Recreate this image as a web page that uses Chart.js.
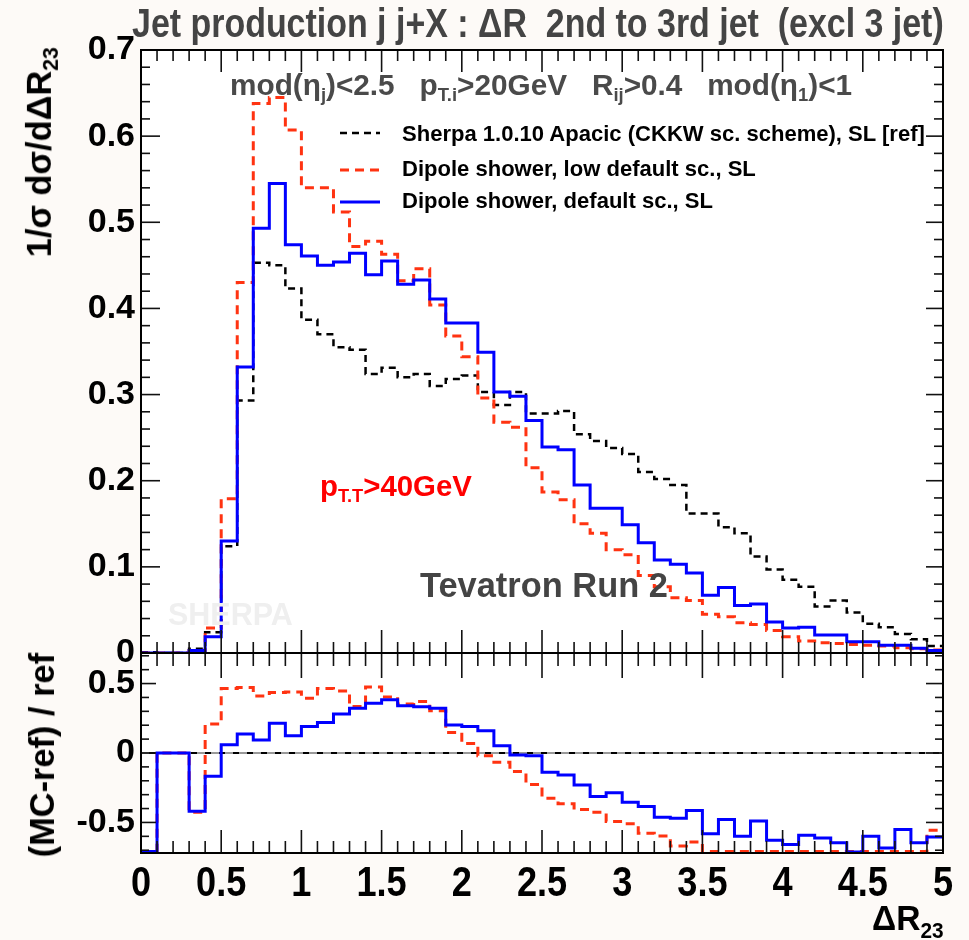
<!DOCTYPE html>
<html><head><meta charset="utf-8">
<script src="https://cdn.jsdelivr.net/npm/chart.js@4.4.1/dist/chart.umd.min.js"></script>
<style>
html,body{margin:0;padding:0;background:#fdfaf7;}
#wrap{position:relative;width:969px;height:940px;overflow:hidden;}
canvas{position:absolute;left:0;}
#c1{top:0;} #c2{top:613px;}
.t{position:absolute;white-space:pre;line-height:1;font-family:"Liberation Sans",Arial,sans-serif;font-weight:bold;z-index:5;}
.t sub{font-size:62%;vertical-align:-0.35em;line-height:0;}
.leg{position:absolute;left:340px;z-index:5;}
</style></head>
<body><div id="wrap">
<canvas id="c1" width="969" height="700"></canvas>
<canvas id="c2" width="969" height="327"></canvas>

<div id="title" class="t" style="font-size:40px;color:#444;">Jet production j j+X : ΔR  2nd to 3rd jet  (excl 3 jet)</div>
<div id="cuts" class="t" style="font-size:28px;color:#4a4a4a;">mod(η<sub>j</sub>)&lt;2.5   p<sub>T.i</sub>&gt;20GeV   R<sub>ij</sub>&gt;0.4   mod(η<sub>1</sub>)&lt;1</div>

<svg class="leg" style="top:127px" width="42" height="12"><line x1="0" y1="6" x2="40" y2="6" stroke="#000" stroke-width="2.5" stroke-dasharray="7 5"/></svg>
<svg class="leg" style="top:164px" width="42" height="12"><line x1="0" y1="6" x2="40" y2="6" stroke="#ff3311" stroke-width="3" stroke-dasharray="9 6"/></svg>
<svg class="leg" style="top:196px" width="42" height="12"><line x1="0" y1="6" x2="40" y2="6" stroke="#0000ff" stroke-width="3"/></svg>
<div id="l1" class="t" style="font-size:22px;color:#000;">Sherpa 1.0.10 Apacic (CKKW sc. scheme), SL [ref]</div>
<div id="l2" class="t" style="font-size:22px;color:#000;">Dipole shower, low default sc., SL</div>
<div id="l3" class="t" style="font-size:22px;color:#000;">Dipole shower, default sc., SL</div>

<div id="ptt" class="t" style="font-size:29px;color:#ff0000;">p<sub>T.T</sub>&gt;40GeV</div>
<div id="tev" class="t" style="font-size:34px;color:#444;">Tevatron Run 2</div>
<div id="sherpa" class="t" style="font-size:30px;color:#efefef;z-index:1;">SHERPA</div>

<div id="ytop" class="t" style="font-size:30px;color:#000;">1/σ dσ/dΔR<sub>23</sub></div>
<div id="ybot" class="t" style="font-size:30px;color:#000;">(MC-ref) / ref</div>
<div id="xtitle" class="t" style="font-size:35px;color:#000;">ΔR<sub>23</sub></div>
</div>
<script>
// ---- data ----
const binLow = [0.0,0.1,0.2,0.3,0.4,0.5,0.6,0.7,0.8,0.9,1.0,1.1,1.2,1.3,1.4,1.5,1.6,1.7,1.8,1.9,
  2.0,2.1,2.2,2.3,2.4,2.5,2.6,2.7,2.8,2.9,3.0,3.1,3.2,3.3,3.4,3.5,3.6,3.7,3.8,3.9,
  4.0,4.1,4.2,4.3,4.4,4.5,4.6,4.7,4.8,4.9];
const binEnd = 5.0;
const refVals = [0.001,0,0,0.005,0.024,0.124,0.293,0.453,0.450,0.423,
  0.387,0.370,0.355,0.352,0.324,0.331,0.320,0.324,0.310,0.318,
  0.322,0.303,0.288,0.303,0.278,0.278,0.281,0.254,0.246,0.238,
  0.231,0.210,0.202,0.195,0.162,0.162,0.146,0.139,0.112,0.097,
  0.085,0.077,0.054,0.061,0.047,0.034,0.030,0.022,0.016,0.008];
const lowVals = [0,0,0,0.003,0.029,0.179,0.430,0.638,0.645,0.607,
  0.540,0.540,0.512,0.472,0.478,0.463,0.432,0.446,0.404,0.368,
  0.344,0.296,0.268,0.262,0.215,0.187,0.178,0.150,0.139,0.120,
  0.114,0.090,0.077,0.064,0.061,0.045,0.042,0.035,0.033,0.026,
  0.019,0.014,0.012,0.011,0.010,0.009,0.008,0.006,0.005,0.0035];
const defVals = [0,0,0,0.003,0.019,0.130,0.332,0.493,0.545,0.474,
  0.461,0.450,0.454,0.464,0.439,0.455,0.428,0.433,0.411,0.383,
  0.383,0.349,0.303,0.298,0.270,0.239,0.236,0.195,0.168,0.168,
  0.149,0.128,0.108,0.103,0.093,0.067,0.076,0.055,0.057,0.036,
  0.029,0.030,0.021,0.021,0.013,0.013,0.009,0.009,0.0055,0.003];
const defRatio = [-0.71,0,0,-0.419,-0.167,0.060,0.136,0.093,0.215,0.124,
  0.191,0.220,0.280,0.323,0.359,0.383,0.340,0.333,0.323,0.201,
  0.191,0.160,0.053,-0.014,-0.019,-0.139,-0.158,-0.230,-0.313,-0.287,
  -0.354,-0.385,-0.462,-0.469,-0.414,-0.581,-0.478,-0.600,-0.490,-0.629,
  -0.658,-0.593,-0.612,-0.646,-0.713,-0.600,-0.684,-0.550,-0.646,-0.605];
const lowRatio = [-0.71,0,0,-0.426,0.208,0.464,0.471,0.411,0.435,0.440,
  0.395,0.464,0.447,0.335,0.476,0.404,0.352,0.371,0.304,0.148,
  0.069,-0.019,-0.067,-0.134,-0.227,-0.325,-0.366,-0.407,-0.426,-0.493,
  -0.510,-0.577,-0.598,-0.670,-0.641,-0.71,-0.71,-0.71,-0.71,-0.71,
  -0.71,-0.71,-0.71,-0.71,-0.71,-0.71,-0.71,-0.71,-0.71,-0.557];
const refRatio = refVals.map(() => 0);
const xTicks = [0,0.5,1,1.5,2,2.5,3,3.5,4,4.5,5];
const yTopTicks = [0,0.1,0.2,0.3,0.4,0.5,0.6,0.7];
const yRatioTicks = [-0.5,0,0.5];
const labels = ['Sherpa 1.0.10 Apacic (CKKW sc. scheme), SL [ref]','Dipole shower, low default sc., SL','Dipole shower, default sc., SL'];

// ---- text placement (fit to measured reference extents) ----
function place(id, left, cy, width, mode){
  const el = document.getElementById(id);
  if (mode === 'font') { const fs = parseFloat(getComputedStyle(el).fontSize); el.style.fontSize = (fs*width/el.offsetWidth)+'px'; }
  const sx = (mode === 'sx') ? width/el.offsetWidth : 1;
  el.style.left = left+'px';
  el.style.top = (cy - el.offsetHeight/2)+'px';
  el.style.transformOrigin = '0 50%';
  el.style.transform = 'scaleX('+sx+')';
}
function placeRot(id, cx, cy, len){
  const el = document.getElementById(id);
  const fs = parseFloat(getComputedStyle(el).fontSize); el.style.fontSize = (fs*len/el.offsetWidth)+'px';
  el.style.left = (cx - el.offsetWidth/2)+'px';
  el.style.top = (cy - el.offsetHeight/2)+'px';
  el.style.transformOrigin = '50% 50%';
  el.style.transform = 'rotate(-90deg)';
}
place('title', 132, 23, 812, 'sx');
place('cuts', 230, 85, 623, 'font');
place('l1', 402, 134, 523, 'font');
place('l2', 402, 168.5, 0, 'none');
place('l3', 402, 200.5, 0, 'none');
document.getElementById('l2').style.fontSize = document.getElementById('l1').style.fontSize;
document.getElementById('l3').style.fontSize = document.getElementById('l1').style.fontSize;
place('l2', 402, 168.5, 0, 'none');
place('l3', 402, 200.5, 0, 'none');
place('ptt', 320, 485, 152, 'font');
place('tev', 420, 585, 248, 'font');
place('sherpa', 168, 614, 125, 'font');
place('xtitle', 872, 917, 72, 'sx');
placeRot('ytop', 39, 152, 210);
placeRot('ybot', 42, 755, 204);

// ---- chart helpers ----
function toSteps(vals){ return vals.map((v,i)=>({x:binLow[i],y:v})).concat([{x:binEnd,y:vals[vals.length-1]}]); }
const FONT = "'Liberation Sans', Arial, sans-serif";
const line = (data,color,w,dash) => ({data:toSteps(data),borderColor:color,borderWidth:w,borderDash:dash||[],stepped:'before',pointRadius:0,fill:false,tension:0});

const bgPlugin = {id:'bg', beforeDraw(chart){const {ctx,chartArea:a}=chart; ctx.save(); ctx.fillStyle='#fff'; ctx.fillRect(a.left,a.top,a.right-a.left,a.bottom-a.top); ctx.restore();}};

function framePlugin(cfg){
  return {id:'frame', afterDraw(chart){
    const {ctx,chartArea:a,scales:{x,y}} = chart;
    ctx.save(); ctx.strokeStyle='#111'; ctx.lineWidth=1.6;
    for(let k=0;k<=50;k++){
      const px=x.getPixelForValue(k/10), major=(k%5===0);
      const lt = major?cfg.xTopMaj:cfg.xTopMin, lb = major?cfg.xBotMaj:cfg.xBotMin;
      ctx.beginPath(); ctx.moveTo(px,a.top); ctx.lineTo(px,a.top+lt); ctx.stroke();
      ctx.beginPath(); ctx.moveTo(px,a.bottom); ctx.lineTo(px,a.bottom-lb); ctx.stroke();
    }
    const n = Math.round((cfg.yMax-cfg.yMin)/cfg.yMinStep);
    for(let k=0;k<=n;k++){
      const v = cfg.yMin + k*cfg.yMinStep;
      const py = y.getPixelForValue(v);
      const major = Math.abs(v/cfg.yMajStep - Math.round(v/cfg.yMajStep))<1e-6;
      const l = major?cfg.yMaj:cfg.yMin2, r = major?cfg.yMajR:cfg.yMin2;
      ctx.beginPath(); ctx.moveTo(a.left,py); ctx.lineTo(a.left+l,py); ctx.stroke();
      ctx.beginPath(); ctx.moveTo(a.right,py); ctx.lineTo(a.right-r,py); ctx.stroke();
    }
    ctx.strokeStyle='#000'; ctx.lineWidth=2;
    ctx.strokeRect(a.left,a.top,a.right-a.left,a.bottom-a.top);
    ctx.restore();
  }};
}
const zeroPlugin = {id:'zero', beforeDatasetsDraw(chart){
  const {ctx,chartArea:a,scales:{y}} = chart; const py=y.getPixelForValue(0);
  ctx.save(); ctx.strokeStyle='#000'; ctx.lineWidth=2.2; ctx.beginPath(); ctx.moveTo(a.left,py); ctx.lineTo(a.right,py); ctx.stroke(); ctx.restore();
}};
// x tick labels: condensed bold, placed by the x scale
const xLabelPlugin = {id:'xl', afterDraw(chart){
  const {ctx,chartArea:a,scales:{x}} = chart;
  ctx.save(); ctx.font = "bold 42px 'Liberation Sans', Arial, sans-serif"; ctx.fillStyle='#000';
  ctx.textAlign='center'; ctx.textBaseline='alphabetic';
  xTicks.forEach(v=>{ const px=x.getPixelForValue(v); ctx.save(); ctx.translate(px, a.bottom+43); ctx.scale(0.86,1); ctx.fillText(String(v),0,0); ctx.restore(); });
  ctx.restore();
}};

const yTickOpts = {padding:6,color:'#000',font:{family:FONT,size:34,weight:'bold'},callback:v=>String(v)};

new Chart(document.getElementById('c1'),{
  type:'line',
  data:{datasets:[
    Object.assign(line(defVals,'#0000ff',3),{label:labels[2]}),
    Object.assign(line(lowVals,'#ff3311',3,[9,6]),{label:labels[1]}),
    Object.assign(line(refVals,'#000000',2.5,[7,5]),{label:labels[0]})
  ]},
  options:{
    responsive:false, animation:false, events:[],
    layout:{padding:{left:0,top:50,right:26,bottom:47}},
    plugins:{legend:{display:false},tooltip:{enabled:false},title:{display:false}},
    scales:{
      x:{type:'linear',min:0,max:5,display:false},
      y:{type:'linear',min:0,max:0.7,
         afterFit:s=>{s.width=141;},
         afterBuildTicks:s=>{s.ticks=yTopTicks.map(v=>({value:v}));},
         grid:{display:false,drawTicks:false},border:{display:false},
         ticks:yTickOpts}
    }
  },
  plugins:[bgPlugin, framePlugin({xTopMaj:22,xTopMin:11,xBotMaj:23,xBotMin:11,yMin:0,yMax:0.7,yMinStep:0.02,yMajStep:0.1,yMaj:19,yMajR:17,yMin2:9})]
});

new Chart(document.getElementById('c2'),{
  type:'line',
  data:{datasets:[
    Object.assign(line(defRatio,'#0000ff',3),{label:labels[2]}),
    Object.assign(line(lowRatio,'#ff3311',3,[9,6]),{label:labels[1]}),
    Object.assign(line(refRatio,'#999999',2,[8,6]),{label:labels[0]})
  ]},
  options:{
    responsive:false, animation:false, events:[],
    layout:{padding:{left:0,top:40,right:26,bottom:0}},
    plugins:{legend:{display:false},tooltip:{enabled:false},title:{display:false}},
    scales:{
      x:{type:'linear',min:0,max:5,
         afterFit:s=>{s.height=87;},
         afterBuildTicks:s=>{s.ticks=xTicks.map(v=>({value:v}));},
         grid:{display:false,drawTicks:false},border:{display:false},
         ticks:{display:false}},
      y:{type:'linear',min:-0.72,max:0.72,
         afterFit:s=>{s.width=141;},
         afterBuildTicks:s=>{s.ticks=yRatioTicks.map(v=>({value:v}));},
         grid:{display:false,drawTicks:false},border:{display:false},
         ticks:yTickOpts}
    }
  },
  plugins:[bgPlugin, zeroPlugin, xLabelPlugin, framePlugin({xTopMaj:25,xTopMin:13,xBotMaj:23,xBotMin:12,yMin:-0.7,yMax:0.7,yMinStep:0.1,yMajStep:0.5,yMaj:15,yMajR:17,yMin2:8})]
});
</script>
</body></html>
